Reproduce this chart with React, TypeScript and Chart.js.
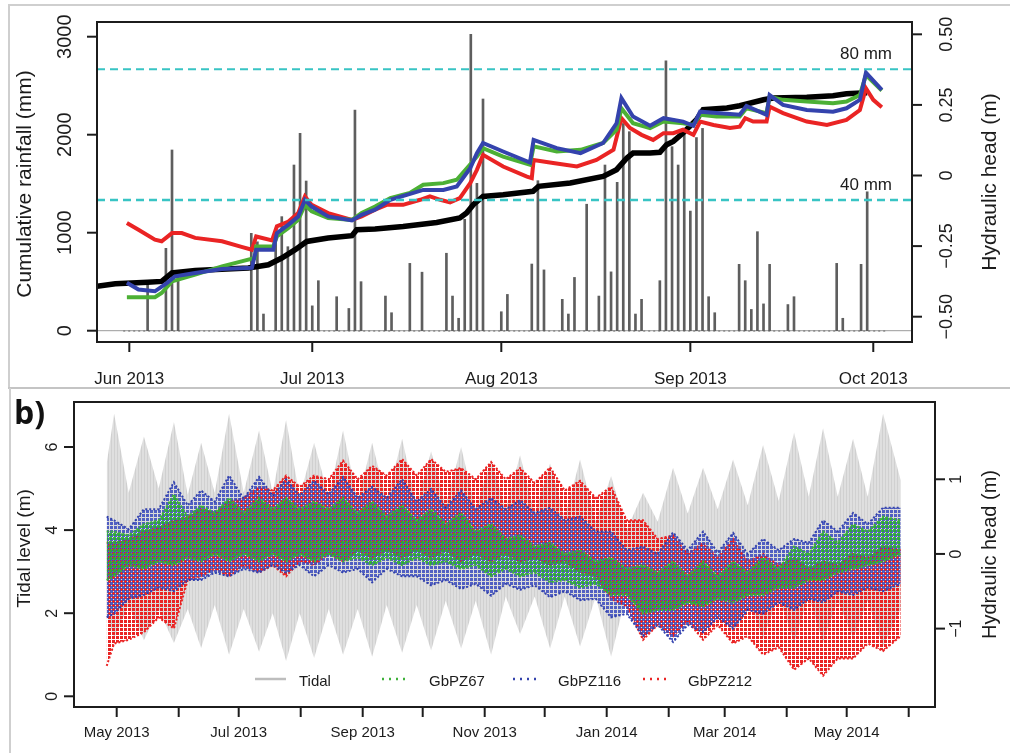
import React, { useEffect, useRef } from 'react';
import { Chart, registerables } from 'chart.js';
Chart.register(...registerables);

const FONT = '"Liberation Sans", Arial, Helvetica, sans-serif';
const INK = '#1c1c1c';

// ---------------- Panel a (days since 1 Jun 2013) ----------------
const monthTicksA = [0, 30, 61, 92, 122];
const monthLabelsA = ['Jun 2013', 'Jul 2013', 'Aug 2013', 'Sep 2013', 'Oct 2013'];
const rainTicks = [0, 1000, 2000, 3000];
const headTicksA = [-0.5, -0.25, 0, 0.25, 0.5];
const headTickLabelsA = ['\u22120.50', '\u22120.25', '0', '0.25', '0.50'];
const thresholdsMm = [40, 80];
const thresholdLabels = ['40 mm', '80 mm'];

const rainDays = [3, 6, 7, 8, 20, 21, 22, 24, 25, 26, 27, 28, 29, 30, 31, 34, 36, 37, 38, 42, 43, 46, 48, 52, 53, 54, 55, 56, 57, 58, 61, 62, 66, 67, 68, 71, 72, 73, 75, 77, 78, 79, 80, 81, 82, 83, 84, 87, 88, 89, 90, 91, 92, 93, 94, 95, 96, 100, 101, 102, 103, 104, 105, 108, 109, 116, 117, 120, 121];
const rainMm = [15, 25.2, 55.3, 17.6, 29.8, 27.2, 5.1, 29.8, 34.9, 25.7, 50.7, 60.4, 45.8, 7.6, 15.3, 10.4, 6.8, 67.5, 15, 10.6, 5.5, 20.6, 17.9, 23.7, 10.6, 3.8, 34.1, 90.7, 45.1, 70.9, 5.8, 11.1, 20.4, 45.9, 18.6, 9.6, 5.1, 16.3, 38.7, 10.6, 50.7, 18.0, 45.4, 63.4, 60.9, 5.1, 9.6, 15.3, 82.6, 56.3, 50.7, 61.9, 36.6, 59.1, 61.9, 10.4, 5.5, 20.3, 15.3, 6.5, 30.3, 8.2, 20.3, 8.0, 10.4, 20.6, 3.8, 20.3, 42.5];

const cumDays = [-5.3, -2.3, 3, 5.3, 7, 10.8, 19.5, 22.8, 25, 27.2, 29.1, 32.6, 36.5, 37.3, 40.3, 44.9, 50.4, 54.2, 55.3, 56.4, 58, 61.3, 66.2, 67.1, 72.3, 77.7, 79.9, 81.6, 82.6, 85.4, 87, 88.1, 89.2, 90.8, 93, 94.1, 98, 100.1, 104, 105.6, 111.1, 115.4, 117.6, 120.1, 121];
const cumMm = [452, 480, 495, 503, 589, 615, 640, 673, 742, 827, 911, 946, 969, 1031, 1037, 1064, 1105, 1150, 1201, 1286, 1370, 1388, 1422, 1473, 1507, 1575, 1643, 1762, 1813, 1813, 1820, 1898, 1932, 2017, 2153, 2255, 2272, 2296, 2357, 2374, 2381, 2398, 2418, 2425, 2428];

const redDaysA = [-0.4, 1.5, 4.2, 5.3, 7, 8.6, 10.8, 15.2, 18.4, 20.1, 20.8, 23.4, 24.2, 26.1, 27.7, 28.8, 29.9, 32.6, 36.5, 38.1, 40.3, 42.2, 44.9, 47.7, 49.3, 51, 52.6, 54.2, 55.9, 57, 58, 61.3, 65.2, 66, 66.3, 69.5, 73.4, 76.6, 79.4, 80.7, 82.1, 84, 85.9, 87.6, 89.2, 90.8, 92.5, 93.6, 95.8, 98.5, 100.1, 101, 102.3, 104.5, 105, 107.2, 111.1, 114.4, 117.6, 119.8, 120.8, 122, 123.4];
const redHeadA = [-0.168, -0.192, -0.227, -0.233, -0.204, -0.204, -0.221, -0.233, -0.253, -0.263, -0.216, -0.23, -0.18, -0.163, -0.133, -0.074, -0.104, -0.133, -0.157, -0.145, -0.121, -0.104, -0.104, -0.086, -0.074, -0.086, -0.095, -0.08, -0.027, 0.02, 0.073, 0.032, -0.004, -0.009, 0.055, 0.044, 0.032, 0.055, 0.091, 0.203, 0.168, 0.144, 0.126, 0.15, 0.15, 0.162, 0.144, 0.191, 0.179, 0.168, 0.173, 0.203, 0.191, 0.191, 0.244, 0.221, 0.191, 0.179, 0.197, 0.232, 0.309, 0.268, 0.242];

const greenDaysA = [-0.4, 4.2, 5.3, 7, 10.8, 15.2, 18.4, 20.6, 20.8, 23.6, 24.2, 26.1, 27.7, 28.8, 29.9, 32.6, 36.5, 38.1, 40.3, 42.8, 46, 48.2, 51.5, 53.7, 55.6, 57, 58, 61.3, 65.7, 66.3, 70.1, 74, 77.7, 79.9, 80.7, 82.6, 85.4, 87.6, 90.8, 92.5, 93.6, 96.3, 100.1, 101.2, 104.5, 105, 107.2, 111.1, 115.4, 117.6, 119.8, 120.8, 123.4];
const greenHeadA = [-0.431, -0.431, -0.416, -0.375, -0.351, -0.322, -0.304, -0.292, -0.251, -0.251, -0.216, -0.186, -0.157, -0.104, -0.127, -0.151, -0.157, -0.133, -0.11, -0.08, -0.062, -0.033, -0.027, -0.015, 0.032, 0.067, 0.097, 0.067, 0.038, 0.103, 0.085, 0.091, 0.115, 0.162, 0.238, 0.185, 0.168, 0.191, 0.185, 0.179, 0.215, 0.209, 0.209, 0.238, 0.221, 0.279, 0.268, 0.262, 0.256, 0.262, 0.285, 0.356, 0.301];

const blueDaysA = [-0.4, 1.5, 4.2, 6.2, 7.5, 10.8, 15.2, 20.1, 20.8, 23.6, 24.2, 26.1, 27.7, 28.8, 29.9, 32.6, 36.5, 38.1, 40.3, 42.8, 48.2, 51.5, 53.7, 55.9, 57, 58, 61.3, 65.7, 66.3, 70.1, 74, 77.7, 79.9, 80.7, 82.6, 85.4, 87.6, 90.8, 92.5, 93.6, 96.3, 100.1, 101.2, 104.5, 105, 107.2, 111.1, 115.4, 117.6, 119.8, 120.8, 123.4];
const blueHeadA = [-0.38, -0.404, -0.41, -0.38, -0.357, -0.345, -0.331, -0.327, -0.263, -0.263, -0.204, -0.174, -0.145, -0.086, -0.11, -0.145, -0.159, -0.139, -0.121, -0.086, -0.051, -0.051, -0.039, 0.026, 0.079, 0.115, 0.085, 0.046, 0.126, 0.097, 0.079, 0.115, 0.185, 0.274, 0.209, 0.176, 0.203, 0.191, 0.176, 0.226, 0.221, 0.215, 0.246, 0.215, 0.285, 0.25, 0.232, 0.226, 0.238, 0.268, 0.364, 0.303];

// ---------------- Panel b (days since 1 May 2013) ----------------
const monthTicksB = [0, 31, 61, 92, 123, 153, 184, 214, 245, 276, 304, 335, 365, 396];
const monthLabelsB = ['May 2013', '', 'Jul 2013', '', 'Sep 2013', '', 'Nov 2013', '', 'Jan 2014', '', 'Mar 2014', '', 'May 2014', ''];
const tidalTicks = [0, 2, 4, 6];
const headTicksB = [-1, 0, 1];
const headTickLabelsB = ['\u22121', '0', '1'];
const legendLabels = ['Tidal', 'GbPZ67', 'GbPZ116', 'GbPZ212'];

// spring / neap envelope nodes
const nodeDays = [-5, -1.3, 6, 13.6, 21, 28.6, 35.5, 42.2, 49, 56.2, 63.5, 71.2, 78, 84.7, 91.5, 98.7, 106, 113.2, 120.5, 127.7, 135, 142.7, 150, 157.2, 164.5, 172.2, 179.5, 187.2, 194.5, 201.7, 209, 216.7, 224, 231.7, 239.5, 247.2, 255, 263.2, 270.5, 278.2, 285.5, 293.2, 300.5, 308.2, 315.5, 323.2, 331, 338.7, 346, 353.2, 360.5, 368.2, 375.5, 383.2, 392];

const tidalUpper = [5.6, 6.8, 4.9, 6.25, 5.0, 6.6, 4.85, 6.1, 4.9, 6.8, 4.9, 6.4, 4.9, 6.65, 4.8, 6.1, 4.8, 6.4, 4.7, 6.1, 4.7, 6.2, 4.6, 5.9, 4.6, 6.0, 4.5, 5.7, 4.5, 5.8, 4.4, 5.6, 4.3, 5.7, 4.2, 5.3, 4.0, 4.9, 4.2, 5.5, 4.4, 5.5, 4.5, 5.7, 4.6, 6.05, 4.7, 6.35, 4.8, 6.45, 4.8, 6.2, 4.8, 6.8, 5.2];
const tidalLower = [2.0, 1.4, 2.2, 1.35, 2.1, 1.28, 2.1, 1.16, 2.2, 1.0, 2.1, 1.07, 2.0, 0.85, 2.0, 0.92, 2.1, 1.0, 2.1, 0.95, 2.2, 1.05, 2.2, 1.1, 2.3, 1.15, 2.3, 1.0, 2.4, 1.5, 2.4, 1.15, 2.4, 1.2, 2.4, 0.95, 2.5, 1.35, 2.5, 1.4, 2.5, 1.5, 2.5, 1.5, 2.4, 1.4, 2.4, 1.3, 2.4, 1.3, 2.3, 1.4, 2.3, 1.2, 2.1];

const gb67Upper = [0.3, 0.3, 0.25, 0.4, 0.45, 0.8, 0.5, 0.65, 0.55, 0.75, 0.55, 0.75, 0.6, 0.75, 0.6, 0.7, 0.6, 0.75, 0.55, 0.7, 0.5, 0.65, 0.45, 0.6, 0.4, 0.55, 0.3, 0.4, 0.2, 0.25, 0.1, 0.15, 0.0, 0.05, -0.1, -0.05, -0.2, -0.15, -0.25, -0.1, -0.3, -0.1, -0.3, -0.1, -0.25, -0.05, -0.2, 0.1, 0.0, 0.3, 0.15, 0.4, 0.3, 0.5, 0.45];
const gb67Lower = [-0.35, -0.3, -0.15, -0.2, -0.1, -0.15, -0.05, -0.1, 0.0, -0.1, 0.0, -0.1, 0.0, -0.1, 0.0, -0.1, 0.0, -0.1, -0.05, -0.15, -0.05, -0.15, -0.05, -0.15, -0.1, -0.2, -0.15, -0.3, -0.2, -0.3, -0.25, -0.38, -0.35, -0.45, -0.4, -0.55, -0.55, -0.8, -0.75, -0.75, -0.65, -0.7, -0.6, -0.65, -0.55, -0.55, -0.45, -0.45, -0.35, -0.35, -0.25, -0.2, -0.15, -0.1, 0.0];

const gb116Upper = [0.5, 0.45, 0.33, 0.6, 0.6, 0.96, 0.65, 0.85, 0.7, 1.05, 0.74, 1.03, 0.78, 1.0, 0.78, 0.98, 0.8, 1.03, 0.75, 0.9, 0.75, 1.0, 0.7, 0.87, 0.62, 0.85, 0.6, 0.75, 0.6, 0.72, 0.55, 0.62, 0.45, 0.5, 0.3, 0.3, 0.05, 0.1, 0.0, 0.29, 0.05, 0.3, 0.02, 0.28, 0.0, 0.2, 0.05, 0.2, 0.15, 0.45, 0.3, 0.55, 0.4, 0.62, 0.62];
const gb116Lower = [-0.85, -0.8, -0.6, -0.55, -0.45, -0.5, -0.35, -0.35, -0.25, -0.3, -0.2, -0.25, -0.15, -0.25, -0.15, -0.3, -0.15, -0.25, -0.2, -0.38, -0.2, -0.3, -0.3, -0.42, -0.35, -0.47, -0.4, -0.56, -0.4, -0.48, -0.42, -0.58, -0.5, -0.62, -0.6, -0.85, -0.8, -1.1, -0.95, -1.18, -0.95, -1.05, -0.85, -1.0, -0.75, -0.8, -0.65, -0.75, -0.6, -0.65, -0.5, -0.55, -0.45, -0.5, -0.4];

const gb212Upper = [0.15, 0.15, 0.2, 0.3, 0.35, 0.45, 0.5, 0.6, 0.55, 0.7, 0.75, 0.9, 0.85, 1.05, 0.9, 1.05, 1.0, 1.25, 1.0, 1.18, 1.05, 1.27, 1.05, 1.27, 1.1, 1.15, 1.0, 1.23, 1.0, 1.15, 0.95, 1.16, 0.85, 0.98, 0.75, 0.9, 0.45, 0.45, 0.2, 0.25, 0.0, 0.15, -0.05, 0.2, -0.1, 0.0, -0.15, -0.05, -0.2, -0.1, -0.15, 0.0, -0.05, 0.1, 0.05];
const gb212Lower = [-1.5, -1.2, -1.15, -1.05, -0.85, -1.0, -0.35, -0.3, -0.2, -0.3, -0.15, -0.25, -0.15, -0.3, -0.1, -0.15, 0.0, -0.1, 0.05, -0.05, 0.05, -0.05, 0.05, -0.05, 0.05, -0.1, 0.0, -0.1, 0.0, -0.1, -0.05, -0.15, -0.1, -0.25, -0.3, -0.6, -0.7, -1.15, -0.95, -1.1, -0.9, -1.15, -0.95, -1.2, -1.1, -1.35, -1.25, -1.55, -1.4, -1.63, -1.4, -1.4, -1.2, -1.3, -1.1];

// ---------------- helpers ----------------
const pts = (xs: number[], ys: number[]) => xs.map((x, i) => ({ x, y: ys[i] }));

function vText(ctx: CanvasRenderingContext2D, text: string, x: number, y: number, size: number) {
  ctx.save();
  ctx.translate(x, y);
  ctx.rotate(-Math.PI / 2);
  ctx.font = `${size}px ${FONT}`;
  ctx.textAlign = 'center';
  ctx.textBaseline = 'middle';
  ctx.fillText(text, 0, 0);
  ctx.restore();
}

function seg(ctx: CanvasRenderingContext2D, x1: number, y1: number, x2: number, y2: number) {
  ctx.beginPath();
  ctx.moveTo(x1, y1);
  ctx.lineTo(x2, y2);
  ctx.stroke();
}

function dotPattern(color: string, tile: number, w: number, h: number, ox: number, oy: number) {
  const c = document.createElement('canvas');
  c.width = tile;
  c.height = tile;
  const g = c.getContext('2d')!;
  g.fillStyle = color;
  for (const dx of [0, -tile]) for (const dy of [0, -tile]) g.fillRect(ox + dx, oy + dy, w, h);
  return g.createPattern(c, 'repeat')!;
}

function stripePattern() {
  const c = document.createElement('canvas');
  c.width = 3;
  c.height = 1;
  const g = c.getContext('2d')!;
  g.fillStyle = '#dfdfdf';
  g.fillRect(0, 0, 3, 1);
  g.fillStyle = '#d0d0d0';
  g.fillRect(0, 0, 1, 1);
  return g.createPattern(c, 'repeat')!;
}

const RED = '#ea2424';
const GREEN = '#3fb13a';
const BLUE = '#3443ad';

const axesA = {
  id: 'axesA',
  afterDatasetsDraw(chart: any) {
    const { ctx, chartArea: a, scales } = chart;
    ctx.save();
    ctx.strokeStyle = INK;
    ctx.fillStyle = INK;
    ctx.lineWidth = 2;
    ctx.strokeRect(a.left, a.top, a.right - a.left, a.bottom - a.top);
    ctx.font = `17px ${FONT}`;
    ctx.textAlign = 'center';
    ctx.textBaseline = 'alphabetic';
    monthTicksA.forEach((d, i) => {
      const px = scales.x.getPixelForValue(d);
      seg(ctx, px, a.bottom, px, a.bottom + 10);
      ctx.fillText(monthLabelsA[i], px, a.bottom + 42);
    });
    rainTicks.forEach((v) => {
      const py = scales.y.getPixelForValue(v);
      seg(ctx, a.left - 10, py, a.left, py);
      vText(ctx, String(v), a.left - 32, py, 20);
    });
    vText(ctx, 'Cumulative rainfall (mm)', 25, (a.top + a.bottom) / 2 + 2, 21);
    headTicksA.forEach((v, i) => {
      const py = scales.yh.getPixelForValue(v);
      seg(ctx, a.right, py, a.right + 10, py);
      vText(ctx, headTickLabelsA[i], a.right + 35, py, 18);
    });
    vText(ctx, 'Hydraulic head (m)', 990, (a.top + a.bottom) / 2, 21);
    ctx.font = `17px ${FONT}`;
    ctx.textAlign = 'right';
    thresholdsMm.forEach((mm, i) => {
      const py = scales.yr.getPixelForValue(mm);
      ctx.fillText(thresholdLabels[i], a.right - 20, py - 10);
    });
    ctx.restore();
  },
};

const axesB = {
  id: 'axesB',
  afterDatasetsDraw(chart: any) {
    const { ctx, chartArea: a, scales } = chart;
    ctx.save();
    ctx.strokeStyle = INK;
    ctx.fillStyle = INK;
    ctx.lineWidth = 2;
    ctx.strokeRect(a.left, a.top, a.right - a.left, a.bottom - a.top);
    ctx.font = `15px ${FONT}`;
    ctx.textAlign = 'center';
    ctx.textBaseline = 'alphabetic';
    monthTicksB.forEach((d, i) => {
      const px = scales.x.getPixelForValue(d);
      seg(ctx, px, a.bottom, px, a.bottom + 10);
      if (monthLabelsB[i]) ctx.fillText(monthLabelsB[i], px, a.bottom + 30);
    });
    tidalTicks.forEach((v) => {
      const py = scales.y.getPixelForValue(v);
      seg(ctx, a.left - 10, py, a.left, py);
      vText(ctx, String(v), a.left - 21, py, 16);
    });
    vText(ctx, 'Tidal level (m)', 25, (a.top + a.bottom) / 2 - 6, 19);
    headTicksB.forEach((v, i) => {
      const py = scales.yh.getPixelForValue(v);
      seg(ctx, a.right, py, a.right + 10, py);
      vText(ctx, headTickLabelsB[i], a.right + 22, py, 16);
    });
    vText(ctx, 'Hydraulic head (m)', 990, (a.top + a.bottom) / 2, 20);

    // legend inside the plot
    const ly = a.bottom - 28;
    const items = [
      { x0: 255, x1: 286, tx: 299, color: '#bdbdbd', dash: [] as number[] },
      { x0: 382, x1: 410, tx: 429, color: GREEN, dash: [2, 5] },
      { x0: 513, x1: 541, tx: 558, color: BLUE, dash: [2, 5] },
      { x0: 643, x1: 671, tx: 688, color: RED, dash: [2, 5] },
    ];
    ctx.font = `15px ${FONT}`;
    ctx.textAlign = 'left';
    items.forEach((it, i) => {
      ctx.save();
      ctx.strokeStyle = it.color;
      ctx.lineWidth = 2.5;
      ctx.setLineDash(it.dash);
      seg(ctx, it.x0, ly, it.x1, ly);
      ctx.restore();
      ctx.fillText(legendLabels[i], it.tx, a.bottom - 21);
    });

    ctx.font = `bold 32px "Open Sans", ${FONT}`;
    ctx.fillStyle = '#111';
    ctx.fillText('b)', 14, 36);
    ctx.restore();
  },
};

function configA(): any {
  const xMin = -5.3;
  const xMax = 128.35;
  const line = (data: any, axis: string, color: string, width: number, order: number, dash: number[] = []) => ({
    type: 'line',
    data,
    yAxisID: axis,
    borderColor: color,
    borderWidth: width,
    borderDash: dash,
    pointRadius: 0,
    tension: 0,
    fill: false,
    order,
  });
  return {
    type: 'line',
    data: {
      datasets: [
        {
          type: 'bar',
          label: 'Daily rainfall',
          data: pts(rainDays, rainMm),
          yAxisID: 'yr',
          backgroundColor: '#5e5e5e',
          barThickness: 2,
          order: 10,
        },
        line([{ x: xMin, y: 0 }, { x: xMax, y: 0 }], 'yr', '#9a9a9a', 1, 11),
        line([{ x: -1, y: 0 }, { x: 124, y: 0 }], 'yr', '#555', 1.5, 11, [2, 3]),
        line([{ x: xMin, y: thresholdsMm[1] }, { x: xMax, y: thresholdsMm[1] }], 'yr', '#38c4c4', 2, 0, [8, 5]),
        line([{ x: xMin, y: thresholdsMm[0] }, { x: xMax, y: thresholdsMm[0] }], 'yr', '#38c4c4', 2.5, 0, [8, 5]),
        line(pts(cumDays, cumMm), 'y', '#000', 5.5, 5),
        line(pts(redDaysA, redHeadA), 'yh', RED, 4, 4),
        line(pts(greenDaysA, greenHeadA), 'yh', '#4cb035', 4, 3),
        line(pts(blueDaysA, blueHeadA), 'yh', BLUE, 4, 2),
      ],
    },
    options: {
      responsive: false,
      animation: false,
      devicePixelRatio: 1,
      layout: { padding: { left: 97, right: 98, top: 22, bottom: 46 } },
      plugins: { legend: { display: false }, tooltip: { enabled: false } },
      scales: {
        x: { type: 'linear', min: xMin, max: xMax, display: false, offset: false },
        y: { type: 'linear', min: -115.3, max: 3150, display: false },
        yh: { type: 'linear', min: -0.5896, max: 0.5436, display: false },
        yr: { type: 'linear', min: -3.46, max: 94.46, display: false },
      },
    },
    plugins: [axesA],
  };
}

function configB(): any {
  const band = (lower: number[], upper: number[], axis: string, color: string, pattern: any, order: number, dotted: boolean) => [
    {
      data: pts(nodeDays, lower),
      yAxisID: axis,
      borderColor: dotted ? color : 'rgba(0,0,0,0)',
      borderWidth: dotted ? 2 : 0,
      borderDash: dotted ? [2, 2] : [],
      pointRadius: 0,
      tension: 0,
      fill: false,
      order,
    },
    {
      data: pts(nodeDays, upper),
      yAxisID: axis,
      borderColor: dotted ? color : 'rgba(0,0,0,0)',
      borderWidth: dotted ? 2 : 0,
      borderDash: dotted ? [2, 2] : [],
      pointRadius: 0,
      tension: 0,
      fill: '-1',
      backgroundColor: pattern,
      order,
    },
  ];
  return {
    type: 'line',
    data: {
      datasets: [
        ...band(tidalLower, tidalUpper, 'y', '#ccc', stripePattern(), 10, false),
        ...band(gb212Lower, gb212Upper, 'yh', RED, dotPattern(RED, 4, 3, 3, 0, 0), 8, true),
        ...band(gb116Lower, gb116Upper, 'yh', BLUE, dotPattern('rgba(58,74,190,0.85)', 4, 3, 3, 2, 2), 6, true),
        ...band(gb67Lower, gb67Upper, 'yh', GREEN, dotPattern('rgba(40,175,45,0.9)', 4, 3, 3, 1, 1), 4, true),
      ],
    },
    options: {
      responsive: false,
      animation: false,
      devicePixelRatio: 1,
      layout: { padding: { left: 74, right: 75, top: 14, bottom: 46 } },
      plugins: { legend: { display: false }, tooltip: { enabled: false } },
      scales: {
        x: { type: 'linear', min: -21.35, max: 409.15, display: false, offset: false },
        y: { type: 'linear', min: -0.2575, max: 7.083, display: false },
        yh: { type: 'linear', min: -2.05, max: 2.035, display: false },
      },
    },
    plugins: [axesB],
  };
}

export default function App() {
  const refA = useRef<HTMLCanvasElement>(null);
  const refB = useRef<HTMLCanvasElement>(null);
  useEffect(() => {
    const chartA = new Chart(refA.current as HTMLCanvasElement, configA());
    const chartB = new Chart(refB.current as HTMLCanvasElement, configB());
    return () => {
      chartA.destroy();
      chartB.destroy();
    };
  }, []);
  const frame = '#cfcfcf';
  return (
    <div style={{ position: 'absolute', left: 0, top: 0, width: 1010, height: 753, background: '#fff', overflow: 'hidden' }}>
      <canvas ref={refA} width={1010} height={388} style={{ position: 'absolute', left: 0, top: 0 }} />
      <canvas ref={refB} width={1010} height={365} style={{ position: 'absolute', left: 0, top: 388 }} />
      <div style={{ position: 'absolute', left: 8, top: 4, width: 1002, height: 2, background: frame }} />
      <div style={{ position: 'absolute', left: 8, top: 4, width: 2, height: 384, background: frame }} />
      <div style={{ position: 'absolute', left: 8, top: 387, width: 1002, height: 2, background: '#c4c4c4' }} />
      <div style={{ position: 'absolute', left: 9, top: 388, width: 2, height: 365, background: frame }} />
    </div>
  );
}
